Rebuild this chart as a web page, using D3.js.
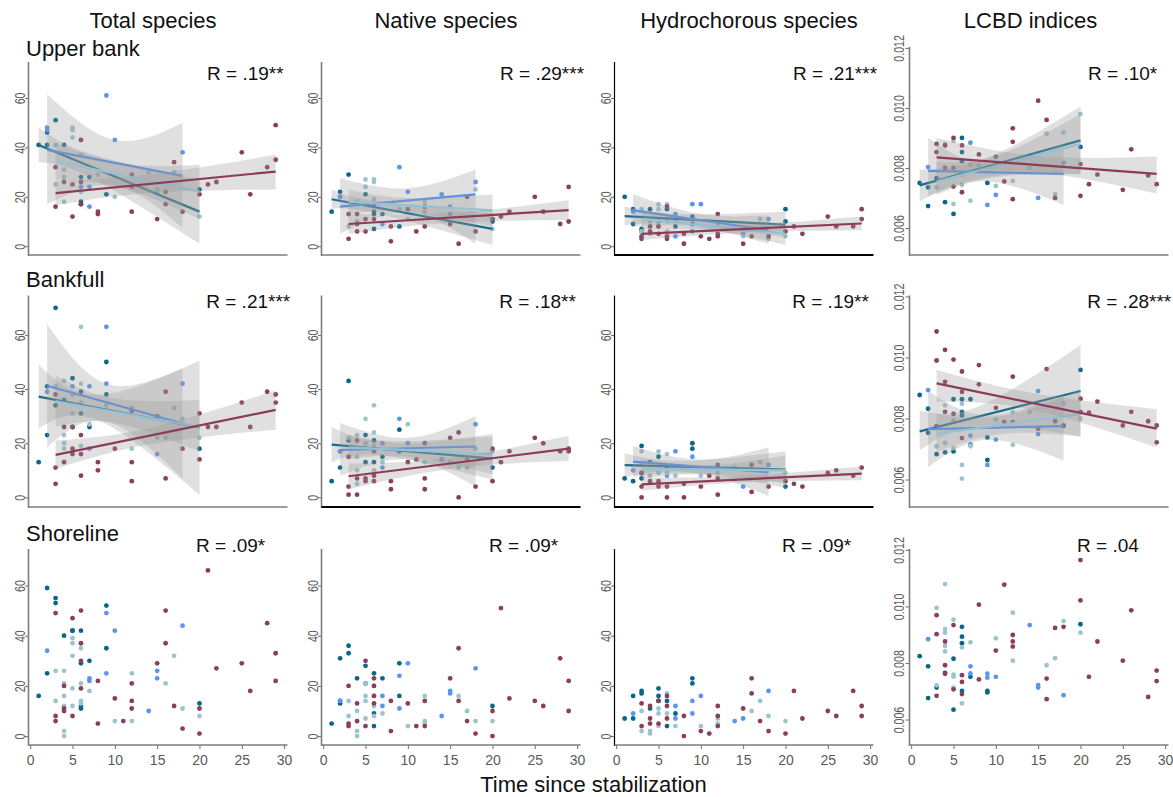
<!DOCTYPE html>
<html>
<head>
<meta charset="utf-8">
<script src="https://cdn.jsdelivr.net/npm/d3@7"></script>
<style>
  body { margin: 0; background: #fff; }
  svg { display: block; font-family: "Liberation Sans", Arial, sans-serif; }
</style>
</head>
<body>
<svg id="chart" width="1173" height="797"></svg>
<script>
// ---- labels and ticks ----
const columnTitles = ["Total species", "Native species", "Hydrochorous species", "LCBD indices"];
const rowTitles = ["Upper bank", "Bankfull", "Shoreline"];
const xTitle = "Time since stabilization";
const countTicks = [0, 20, 40, 60];
const lcbdTicks = [0.006, 0.008, 0.010, 0.012];
const timeTicks = [0, 5, 10, 15, 20, 25, 30];
const rLabels = [
  ["R = .19**", "R = .29***", "R = .21***", "R = .10*"],
  ["R = .21***", "R = .18**", "R = .19**", "R = .28***"],
  ["R = .09*", "R = .09*", "R = .09*", "R = .04"]
];
const groupColors = ["#07668a", "#5b95f0", "#9bc4cf", "#8b3d5a"];
const lineColors = ["#1a6e8c", "#5a91e8", "#92c3d5", "#8c3b59"];

// ---- observations: [time, value] per site group (teal, blue, pale, maroon) ----
const upTotal = [
  [[1,41],[2,46],[2,41],[3,51],[4,41],[6,28],[6,18],[6,17],[7,28],[9,21],[20,23]],
  [[2,48],[2,47],[9,61],[10,43],[7,16],[7,24],[18,38],[6,24]],
  [[3,41],[3,25],[4,18],[4,28],[4,31],[5,48],[5,47],[5,44],[6,43],[6,37],[6,22],[8,29],[10,20],[14,30],[15,23],[15,22],[17,30],[20,12]],
  [[3,32],[3,16],[4,26],[5,12],[5,25],[6,43],[6,26],[6,17],[8,14],[8,13],[12,29],[12,14],[12,24],[15,11],[16,17],[16,22],[17,34],[18,14],[20,21],[21,25],[22,26],[25,38],[26,21],[28,32],[29,49],[29,35]]
];
const upNative = [
  [[1,14],[2,22],[2,20],[3,29],[5,21],[6,17],[6,14],[6,13],[6,7],[7,13],[9,8],[20,10],[20,11]],
  [[2,20],[9,32],[10,22],[14,21],[18,26],[7,9],[15,16],[15,13]],
  [[3,8],[4,18],[5,27],[5,24],[6,27],[6,26],[6,19],[4,10],[12,18],[12,14],[18,23],[20,7],[9,15],[10,11]],
  [[3,13],[3,3],[4,13],[4,9],[4,6],[5,6],[5,11],[6,11],[8,2],[8,8],[10,15],[11,6],[12,8],[12,16],[15,9],[16,1],[17,20],[18,6],[20,11],[21,12],[22,14],[25,20],[26,14],[28,9],[29,24],[29,10]]
];
const upHydro = [
  [[1,20],[2,15],[2,9],[3,7],[3,6],[4,15],[6,15],[9,12],[9,9],[20,15],[20,10],[7,8]],
  [[2,14],[7,4],[9,17],[10,17],[15,5],[18,11],[7,13],[5,10],[9,6]],
  [[3,15],[3,6],[4,10],[5,17],[5,15],[5,8],[6,17],[6,10],[6,6],[7,10],[12,9],[15,4],[18,3],[20,4],[17,11],[4,5]],
  [[3,4],[3,3],[4,8],[4,6],[5,8],[5,5],[6,3],[6,4],[6,16],[8,1],[8,5],[10,4],[11,3],[12,13],[12,4],[12,5],[15,1],[16,4],[18,4],[20,6],[21,8],[22,5],[25,12],[26,8],[28,8],[29,15],[29,11]]
];
const upLcbd = [
  [[1,0.00750],[2,0.00735],[2,0.00673],[3,0.00766],[4,0.00686],[5,0.00647],[6,0.00900],[6,0.00853],[6,0.00822],[9,0.00750],[20,0.00870]],
  [[2,0.00803],[7,0.00884],[9,0.00677],[10,0.00710],[15,0.00700],[18,0.00817]],
  [[3,0.00735],[4,0.00880],[5,0.00890],[5,0.00680],[6,0.00778],[6,0.00744],[7,0.00691],[8,0.00809],[10,0.00740],[12,0.00757],[16,0.00914],[18,0.00918],[20,0.00980],[17,0.00713],[14,0.00800],[7,0.00811]],
  [[3,0.00880],[3,0.00853],[4,0.00875],[4,0.00800],[5,0.00900],[5,0.00800],[5,0.00738],[6,0.00875],[6,0.00719],[8,0.00845],[10,0.00837],[11,0.00755],[12,0.00932],[12,0.00887],[12,0.00696],[15,0.01024],[16,0.00960],[17,0.00700],[20,0.00813],[20,0.00707],[21,0.00746],[22,0.00778],[25,0.00727],[26,0.00862],[28,0.00775],[29,0.00746]]
];
const bfTotal = [
  [[1,13],[2,23],[2,41],[3,70],[3,34],[4,36],[5,44],[5,26],[6,39],[6,31],[7,26],[9,50],[9,38],[20,18]],
  [[2,39],[9,63],[9,42],[7,41],[7,18],[15,16],[18,42],[5,41]],
  [[3,41],[4,43],[4,23],[4,20],[4,18],[5,38],[5,31],[6,63],[6,42],[6,35],[6,19],[7,27],[9,34],[12,33],[12,18],[15,22],[17,33],[18,29],[20,22],[16,22]],
  [[3,38],[3,11],[3,5],[4,26],[4,13],[5,26],[5,18],[5,16],[6,23],[6,16],[6,8],[8,13],[8,10],[10,18],[12,13],[12,6],[12,32],[15,30],[16,39],[16,7],[18,18],[20,31],[20,14],[21,26],[22,26],[25,35],[26,26],[28,39],[29,38],[29,35]]
];
const bfNative = [
  [[1,6],[2,11],[2,17],[3,43],[3,21],[5,23],[5,13],[6,21],[6,13],[7,15],[9,25],[9,17],[20,11]],
  [[2,17],[7,11],[7,20],[9,29],[10,20],[14,14],[18,27]],
  [[3,22],[4,23],[4,15],[4,10],[4,5],[5,29],[5,20],[6,34],[6,24],[6,19],[6,10],[7,13],[10,27],[12,13],[15,13],[16,11],[17,11],[20,17],[18,18]],
  [[3,15],[3,4],[3,1],[4,21],[4,7],[4,1],[5,7],[5,6],[6,17],[6,8],[6,6],[8,6],[8,3],[10,13],[11,14],[12,20],[12,7],[12,3],[15,22],[16,24],[16,0],[17,14],[18,4],[20,18],[20,6],[21,13],[22,17],[25,22],[26,20],[28,17],[29,18],[29,17]]
];
const bfHydro = [
  [[1,7],[2,6],[3,19],[3,7],[4,13],[5,15],[6,11],[9,20],[9,18],[20,4],[3,9]],
  [[2,10],[7,17],[9,15],[15,4],[18,12],[6,8]],
  [[3,17],[4,8],[5,17],[5,9],[6,16],[6,9],[7,8],[10,8],[12,9],[14,11],[17,13],[20,9],[3,12]],
  [[3,9],[3,4],[3,0],[4,6],[5,6],[5,4],[6,4],[6,0],[8,5],[8,0],[10,4],[11,8],[12,12],[12,1],[12,7],[16,12],[16,2],[18,4],[20,6],[21,5],[22,4],[25,9],[26,10],[28,8],[29,11]]
];
const bfLcbd = [
  [[1,0.00877],[2,0.00832],[2,0.00753],[3,0.00683],[4,0.00689],[5,0.00863],[5,0.00692],[6,0.00863],[6,0.00822],[6,0.00810],[7,0.00863],[9,0.00738],[9,0.00664],[20,0.00959]],
  [[2,0.00893],[7,0.00744],[7,0.00716],[9,0.00648],[10,0.00731],[15,0.00890],[15,0.00749],[18,0.00775]],
  [[3,0.00709],[4,0.00843],[4,0.00720],[5,0.00794],[5,0.00703],[6,0.00848],[6,0.00648],[6,0.00603],[7,0.00709],[10,0.00797],[12,0.00821],[12,0.00714],[14,0.00822],[17,0.00794],[18,0.00850],[20,0.00800]],
  [[3,0.01085],[3,0.00990],[3,0.00775],[4,0.01025],[4,0.00920],[4,0.00822],[5,0.00993],[5,0.00815],[6,0.00954],[6,0.00887],[6,0.00736],[8,0.00975],[8,0.00912],[10,0.00835],[11,0.00789],[12,0.00937],[12,0.00788],[15,0.00766],[16,0.00962],[17,0.00791],[18,0.00777],[20,0.00865],[20,0.00822],[21,0.00819],[22,0.00855],[25,0.00777],[26,0.00822],[28,0.00791],[29,0.00777],[29,0.00722]]
];
const shTotal = [
  [[1,16],[2,59],[2,25],[3,55],[3,53],[4,40],[5,42],[5,42],[6,42],[6,29],[6,12],[6,11],[7,30],[9,52],[9,35],[20,13]],
  [[2,34],[7,23],[7,22],[9,49],[9,25],[10,42],[14,10],[15,26],[15,23],[18,44]],
  [[3,26],[3,14],[4,26],[4,21],[4,16],[4,12],[4,2],[4,0],[5,39],[5,37],[5,32],[5,19],[5,12],[6,35],[6,21],[6,14],[6,13],[7,18],[10,6],[12,25],[12,6],[16,21],[17,32],[18,11],[20,8]],
  [[3,49],[3,8],[3,6],[4,20],[4,11],[4,10],[5,47],[5,8],[6,50],[6,37],[6,30],[6,19],[8,22],[8,5],[10,15],[11,6],[12,21],[12,14],[12,11],[15,29],[16,50],[16,37],[17,12],[18,3],[20,11],[20,1],[21,66],[22,27],[25,29],[26,18],[28,45],[29,33],[29,22]]
];
const shNative = [
  [[1,5],[2,31],[2,14],[2,13],[3,36],[3,33],[4,23],[5,28],[5,21],[6,25],[6,9],[6,4],[7,23],[9,29],[9,16],[20,12]],
  [[2,14],[7,16],[7,12],[9,24],[9,11],[10,29],[14,8],[15,18],[15,17],[18,27]],
  [[3,14],[3,8],[4,10],[4,6],[4,2],[4,0],[5,16],[5,14],[5,7],[5,21],[6,20],[6,16],[6,12],[6,8],[7,9],[10,4],[12,16],[12,6],[12,5],[16,16],[17,10],[18,6],[20,6]],
  [[3,20],[3,5],[3,4],[4,13],[4,6],[5,30],[5,4],[6,23],[6,20],[6,16],[6,13],[8,14],[8,2],[10,13],[11,4],[12,14],[12,4],[15,23],[16,35],[16,14],[17,6],[18,1],[20,10],[20,0],[21,51],[22,15],[25,14],[26,12],[28,31],[29,22],[29,10]]
];
const shHydro = [
  [[1,7],[2,16],[2,7],[3,18],[3,17],[4,11],[5,19],[5,16],[5,14],[6,14],[6,4],[7,9],[9,23],[9,21]],
  [[2,9],[7,12],[7,7],[9,14],[9,9],[10,16],[14,6],[15,7],[18,18]],
  [[3,10],[3,2],[4,2],[4,1],[5,11],[5,9],[5,4],[6,17],[6,9],[7,4],[10,4],[12,7],[12,5],[16,10],[17,14],[18,8],[20,6]],
  [[3,13],[3,4],[4,12],[4,7],[4,5],[5,14],[5,5],[6,16],[6,12],[6,7],[8,8],[8,0],[10,2],[11,1],[12,12],[12,8],[12,4],[15,11],[16,23],[16,17],[17,6],[18,2],[20,1],[21,18],[22,7],[25,10],[26,8],[28,18],[29,12],[29,8]]
];
const shLcbd = [
  [[1,0.00824],[2,0.00788],[2,0.00676],[3,0.00713],[4,0.00765],[5,0.00815],[5,0.00635],[6,0.00928],[6,0.00893],[6,0.00870],[6,0.00701],[7,0.00751],[9,0.00701],[9,0.00696],[20,0.00937]],
  [[2,0.00884],[7,0.00788],[7,0.00763],[9,0.00762],[9,0.00748],[10,0.00751],[14,0.00934],[15,0.00722],[15,0.00713],[18,0.00686]],
  [[3,0.00995],[3,0.00721],[4,0.01079],[4,0.00920],[4,0.00907],[4,0.00860],[4,0.00841],[5,0.00953],[5,0.00759],[5,0.00752],[5,0.00713],[6,0.00855],[6,0.00657],[7,0.00873],[10,0.00887],[12,0.00978],[12,0.00808],[16,0.00792],[17,0.00817],[18,0.00948],[20,0.00907]],
  [[3,0.00969],[3,0.00902],[3,0.00684],[4,0.00876],[4,0.00792],[4,0.00762],[5,0.00934],[5,0.00707],[6,0.00757],[6,0.00733],[6,0.00690],[8,0.00742],[8,0.01006],[10,0.00844],[11,0.01077],[12,0.00899],[12,0.00876],[12,0.00858],[16,0.00745],[16,0.00672],[17,0.00924],[18,0.00928],[20,0.01164],[20,0.01021],[21,0.00751],[22,0.00876],[25,0.00808],[26,0.00986],[28,0.00680],[29,0.00773],[29,0.00736]]
];

// ---- fitted trends: [group, x0, y0, x1, y1, confidence band [x, lower, upper]] ----
const upTotalFit = [
  [0, 1, 41, 20, 14, [[1, 34, 48], [7, 28, 37.5], [20, 1, 27]]],
  [1, 2, 39, 18, 28.5, [[2, 17, 61.5], [10, 24.5, 43], [18, 7.5, 50]]],
  [2, 3, 34.5, 20, 22, [[3, 27, 42], [11, 23.5, 33.5], [20, 11, 33]]],
  [3, 3, 21.5, 29, 30.2, [[3, 16.5, 26.5], [14, 21.5, 29], [29, 23, 37]]]
];
const upNativeFit = [
  [0, 1, 19, 20, 7, [[1, 15, 23], [6, 13.5, 18.5], [20, 0.5, 13.5]]],
  [1, 2, 16, 18, 21, [[2, 5, 27.5], [10, 13.5, 23.5], [18, 1, 31]]],
  [2, 3, 18, 20, 14.5, [[3, 13, 23], [10, 14, 19.5], [20, 8, 21]]],
  [3, 3, 9, 29, 14.6, [[3, 5, 13], [15, 9.5, 13.5], [29, 10.5, 18.6]]]
];
const upHydroFit = [
  [0, 1, 12.2, 20, 8.7, [[1, 8.5, 16], [8, 9, 13], [20, 3.5, 14]]],
  [1, 2, 14.5, 18, 6.5, [[2, 8, 21], [10, 7.5, 13], [18, 1, 12.5]]],
  [2, 3, 11, 20, 5, [[3, 7, 15], [11, 6.5, 10.5], [20, 0.5, 9.5]]],
  [3, 3, 5, 29, 9.2, [[3, 2.5, 7.5], [15, 5.5, 8.5], [29, 6.5, 12]]]
];
const upLcbdFit = [
  [0, 1, 0.00742, 20, 0.00892, [[1, 0.00690, 0.00795], [9, 0.00770, 0.00835], [20, 0.00780, 0.01005]]],
  [1, 2, 0.00790, 18, 0.00780, [[2, 0.00705, 0.00900], [9, 0.00755, 0.00815], [18, 0.00677, 0.00880]]],
  [2, 3, 0.00755, 20, 0.00880, [[3, 0.00710, 0.00820], [10, 0.00770, 0.00840], [20, 0.00778, 0.00980]]],
  [3, 3, 0.00835, 29, 0.00780, [[3, 0.00785, 0.00900], [15, 0.00785, 0.00840], [29, 0.00715, 0.00838]]]
];
const bfTotalFit = [
  [0, 1, 37.2, 20, 25.8, [[1, 25.5, 49], [8, 28.5, 38], [20, 1, 50.5]]],
  [1, 2, 41.2, 18, 27.3, [[2, 18.5, 64], [9, 28, 42], [18, 7, 47.6]]],
  [2, 3, 35.5, 20, 26, [[3, 26, 45], [10, 27.5, 36.5], [20, 17, 36]]],
  [3, 3, 15.7, 29, 32.3, [[3, 10.5, 21], [14, 19.5, 25.5], [29, 25, 39.5]]]
];
const bfNativeFit = [
  [0, 1, 19.5, 20, 14.3, [[1, 13, 26], [7, 15.5, 21], [20, 6.5, 22.5]]],
  [1, 2, 17.5, 18, 18.8, [[2, 8, 27.5], [10, 14, 22], [18, 4, 30]]],
  [2, 3, 18.5, 20, 16, [[3, 14, 23], [10, 15, 20], [20, 8.5, 23.5]]],
  [3, 3, 7.8, 29, 18, [[3, 3, 12.5], [15, 10.5, 14.5], [29, 13.5, 22.8]]]
];
const bfHydroFit = [
  [0, 1, 11.9, 20, 10.3, [[1, 7.5, 16.3], [8, 9.5, 13.5], [20, 3.5, 17]]],
  [1, 2, 13.2, 18, 9.3, [[2, 7.5, 19], [10, 8.5, 14], [18, 0.5, 18.5]]],
  [2, 3, 10.5, 20, 10, [[3, 7, 14], [11, 8.5, 12], [20, 5, 15.5]]],
  [3, 3, 4.8, 29, 8.8, [[3, 2.5, 7.3], [15, 5.5, 8], [29, 6.3, 11.4]]]
];
const bfLcbdFit = [
  [0, 1, 0.00758, 20, 0.00890, [[1, 0.00695, 0.00825], [8, 0.00775, 0.00840], [20, 0.00742, 0.01040]]],
  [1, 2, 0.00765, 18, 0.00775, [[2, 0.00640, 0.00890], [9, 0.00730, 0.00810], [18, 0.00662, 0.00880]]],
  [2, 3, 0.00750, 20, 0.00815, [[3, 0.00690, 0.00815], [11, 0.00750, 0.00810], [20, 0.00740, 0.00895]]],
  [3, 3, 0.00915, 29, 0.00767, [[3, 0.00855, 0.00960], [14, 0.00830, 0.00885], [29, 0.00705, 0.00830]]]
];

// ---- grid of panels ----
const panelData = [
  [upTotal, upNative, upHydro, upLcbd],
  [bfTotal, bfNative, bfHydro, bfLcbd],
  [shTotal, shNative, shHydro, shLcbd]
];
const panelFits = [
  [upTotalFit, upNativeFit, upHydroFit, upLcbdFit],
  [bfTotalFit, bfNativeFit, bfHydroFit, bfLcbdFit],
  [null, null, null, null]
];

// ---- layout ----
const colX = [28.5, 321.5, 614.5, 909.5];
const plotW = 259;
const rowTop = [62, 295.5, 549];
const rowBottom = [255, 507, 745];
const lcbdTopRow0 = 47;
const rBaseline = [80, 307.7, 551.7];
const rStartX = [20.9, 20.8, 19.6];
const titleCenters = [153, 446, 749, 1030.5];
const rowTitleBase = [55.7, 287.3, 540.7];

const axisGray = "#7d7d7d";
const tickGray = "#6a6a6a";
const labelGray = "#5a5a5a";

const svg = d3.select("#chart");

// column headers and row headers
svg.selectAll("text.coltitle").data(columnTitles).join("text")
  .attr("class", "coltitle")
  .attr("x", (d, i) => titleCenters[i]).attr("y", 28)
  .attr("text-anchor", "middle").attr("font-size", 22).attr("fill", "#111")
  .text(d => d);
svg.selectAll("text.rowtitle").data(rowTitles).join("text")
  .attr("class", "rowtitle")
  .attr("x", 26).attr("y", (d, i) => rowTitleBase[i])
  .attr("font-size", 22).attr("fill", "#111")
  .text(d => d);
svg.append("text")
  .attr("x", 593.5).attr("y", 792)
  .attr("text-anchor", "middle").attr("font-size", 22).attr("fill", "#111")
  .text(xTitle);

const band = d3.area().curve(d3.curveNatural);
const trend = d3.line();

for (let r = 0; r < 3; r++) {
  for (let c = 0; c < 4; c++) {
    const isL = c === 3;
    const top = (isL && r === 0) ? lcbdTopRow0 : rowTop[r];
    const bottom = rowBottom[r];
    const x0 = colX[c];
    const x = d3.scaleLinear().domain([-0.2, 30.4]).range([x0, x0 + plotW]);
    const y = d3.scaleLinear()
      .domain(isL ? [0.0051, 0.01203] : [-3.55, 74.55])
      .range([bottom, top]);
    const g = svg.append("g");

    // points
    panelData[r][c].forEach((pts, gi) => {
      g.append("g").selectAll("circle").data(pts).join("circle")
        .attr("cx", d => x(d[0])).attr("cy", d => y(d[1]))
        .attr("r", 2.4).attr("fill", groupColors[gi]);
    });

    // trend lines with confidence ribbons
    const fits = panelFits[r][c];
    if (fits) {
      fits.forEach(f => {
        const [gi, xa, ya, xb, yb, ci] = f;
        band.x(d => x(d[0])).y0(d => y(d[1])).y1(d => y(d[2]));
        g.append("path").attr("d", band(ci))
          .attr("fill", "#999999").attr("fill-opacity", 0.3);
        trend.x(d => x(d[0])).y(d => y(d[1]));
        g.append("path").attr("d", trend([[xa, ya], [xb, yb]]))
          .attr("fill", "none").attr("stroke", lineColors[gi]).attr("stroke-width", 2.2);
      });
    }

    // y axis
    const yAx = d3.axisLeft(y)
      .tickValues(isL ? lcbdTicks : countTicks)
      .tickSize(isL ? 4 : 3.5)
      .tickFormat(isL ? d3.format(".3f") : d3.format("d"));
    const gy = g.append("g").attr("transform", `translate(${x0},0)`).call(yAx);
    gy.select(".domain").remove();
    gy.selectAll(".tick line").attr("stroke", tickGray);
    gy.selectAll(".tick text")
      .attr("x", null).attr("dy", null).attr("y", 0)
      .attr("text-anchor", "middle")
      .attr("transform", `translate(${isL ? -5.5 : -4},0) rotate(-90) scale(0.76,1)`)
      .attr("font-size", 14)
      .attr("font-family", "'Liberation Sans', Arial, sans-serif")
      .attr("fill", labelGray);
    const yBlack = c === 2;
    g.append("line")
      .attr("x1", x0).attr("x2", x0).attr("y1", top).attr("y2", bottom + 1)
      .attr("stroke", yBlack ? "#000" : axisGray).attr("stroke-width", yBlack ? 1.2 : 1.6);

    // x axis
    if (r === 2) {
      const xAx = d3.axisBottom(x).tickValues(timeTicks).tickSize(4).tickPadding(6).tickFormat(d3.format("d"));
      const gx = g.append("g").attr("transform", `translate(0,${bottom})`).call(xAx);
      gx.select(".domain").remove();
      gx.selectAll(".tick line").attr("stroke", tickGray);
      gx.selectAll(".tick text")
        .attr("font-size", 14)
        .attr("font-family", "'Liberation Sans', Arial, sans-serif")
        .attr("fill", labelGray);
    }
    const xBlack = (c === 2 && r < 2) || (r === 1 && c === 1);
    g.append("line")
      .attr("x1", x0).attr("x2", x0 + plotW).attr("y1", bottom).attr("y2", bottom)
      .attr("stroke", xBlack ? "#000" : axisGray).attr("stroke-width", xBlack ? 2 : 1.6);

    // correlation label
    g.append("text")
      .attr("x", x(rStartX[r])).attr("y", rBaseline[r])
      .attr("font-size", 19).attr("fill", "#111")
      .text(rLabels[r][c]);
  }
}
</script>
</body>
</html>
